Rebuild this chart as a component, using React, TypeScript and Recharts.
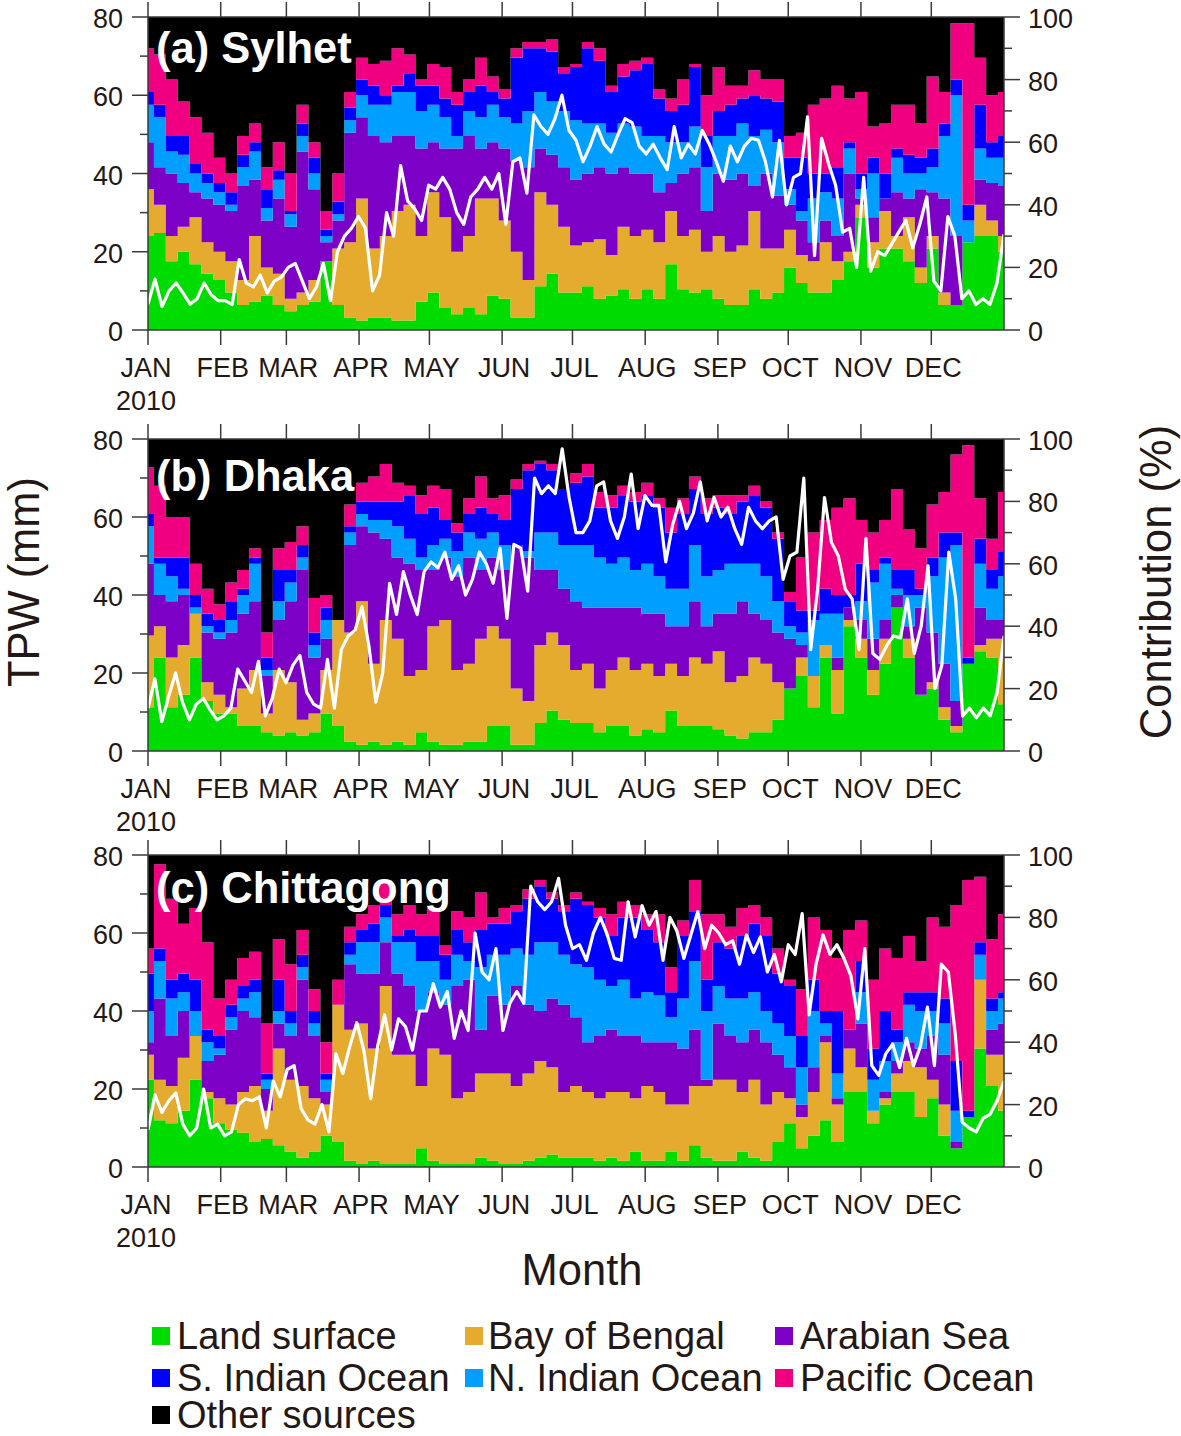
import React from "react";
import { ComposedChart, Area, Line, XAxis, YAxis } from "recharts";

// Upper edge of each stacked source (percent, right axis), one reading per five days.
const sylhetLand = [30,31,22,25,21,18,16,12,8,9,11,8,6,8,9,22,8,4,3,4,4,3,3,9,12,7,5,7,5,11,10,4,4,14,18,12,12,14,10,11,13,10,13,10,21,13,12,13,10,8,8,13,10,12,20,15,12,12,16,22,36,20,26,26,22,15,26,8,8,28,30,30,25];
const sylhetBay = [45,40,30,33,36,28,25,22,16,30,20,18,10,12,16,12,26,28,42,26,30,38,40,30,44,36,25,30,42,42,35,25,16,44,40,33,27,28,29,24,33,30,32,28,38,30,32,25,30,25,27,38,26,26,32,24,22,28,22,25,40,28,38,30,36,20,30,12,8,24,40,35,30];
const sylhetArabian = [60,52,50,47,44,42,40,38,46,48,35,42,33,57,45,28,35,63,68,62,60,62,62,58,60,58,58,62,58,60,58,54,52,58,56,52,48,50,52,50,52,50,50,44,47,50,52,38,50,48,50,46,50,43,40,35,28,35,30,50,42,36,42,44,42,45,44,42,30,25,48,47,46];
const sylhetNIndian = [72,68,57,56,50,47,44,40,52,57,39,48,37,62,50,30,37,67,75,72,72,76,76,70,72,68,62,70,68,72,68,66,70,76,73,70,67,66,66,63,66,65,62,62,60,60,65,52,62,62,66,62,64,60,45,38,42,44,42,58,45,50,42,55,50,50,52,62,75,35,58,55,55];
const sylhetSIndian = [76,72,62,62,53,50,47,44,56,60,45,51,38,66,55,32,41,71,80,78,75,78,82,78,78,74,72,76,78,76,74,87,90,90,89,82,84,90,86,76,81,83,85,74,70,72,84,62,70,72,74,75,74,73,55,55,50,50,52,60,50,55,50,58,56,55,58,66,80,40,72,60,62];
const sylhetPacific = [90,88,80,73,68,63,55,50,62,66,52,60,50,72,60,38,50,76,87,85,86,90,88,80,85,84,76,80,87,81,77,90,92,92,93,84,85,92,90,78,85,86,87,77,74,80,85,75,84,78,78,83,80,80,62,63,72,74,78,74,76,65,66,72,72,66,81,76,98,98,87,75,76];
const sylhetTpw = [6.6,13,6,10,12,9.5,6.6,8,12,9,7.5,7.5,6.5,18,12,11,14,9.5,12.5,13.5,16,17,12.5,8,11,17,7.5,20,24,26,29,26,10,14,30,24,42,33,31,28,37,36,39,36,30,27,34,36,39,36,40,27,43,44,35,55,52,50,54,60,51,48.5,43,47,52,47.5,45.5,50,54,53,47,45,47.5,44,41,52,44,47.5,45,51,47.5,43,38,47,43,47,49,48.5,43,34,48.5,32,39,40,54.5,19,49,42.5,37,25,26,16,39,15,20,19,22,25,28,21,27,34,12.5,10,29,24,8,10,6.5,8,6.5,12,24.5];

const dhakaLand = [14,30,14,18,30,16,12,12,8,8,6,5,6,5,6,12,8,3,2,3,2,3,2,6,3,2,2,3,3,8,8,2,2,9,13,10,9,9,6,8,8,5,7,6,13,8,8,8,7,5,4,6,6,10,20,24,14,30,12,40,30,18,28,46,30,18,20,10,6,28,32,30,15];
const dhakaBay = [37,40,30,34,44,22,18,14,20,26,12,26,22,10,12,26,42,38,48,28,42,36,24,26,40,42,26,28,36,40,36,20,16,34,38,34,26,28,20,26,30,26,28,24,28,24,30,28,32,22,24,30,28,22,20,30,24,34,26,42,36,26,36,46,36,18,22,14,8,26,34,36,36];
const dhakaArabian = [60,50,48,50,44,38,36,38,44,48,24,42,48,58,30,36,28,66,72,70,68,62,60,58,58,62,56,62,58,62,58,66,62,58,58,52,48,46,46,46,46,46,44,44,40,40,48,40,44,44,48,44,42,38,36,34,20,34,30,46,42,36,42,50,40,46,38,28,16,12,46,42,42];
const dhakaNIndian = [72,60,56,52,46,40,38,42,50,60,26,48,54,62,34,42,30,70,76,74,74,72,68,62,66,68,64,70,68,70,66,66,64,70,70,66,66,66,62,60,62,58,60,56,52,52,66,56,58,60,60,60,56,48,40,38,42,44,44,42,48,54,60,52,50,50,56,62,66,24,60,52,56];
const dhakaSIndian = [76,62,62,62,50,44,42,48,52,62,30,58,58,66,38,46,34,72,80,80,80,80,82,76,78,74,70,76,78,76,74,84,90,92,90,84,86,88,78,78,82,80,82,78,70,76,84,76,78,76,80,82,78,68,48,45,45,52,50,50,60,58,62,58,58,52,62,70,70,30,68,58,64];
const dhakaPacific = [91,85,75,75,60,52,47,54,58,65,38,65,67,72,49,50,38,79,86,88,92,86,85,82,85,84,73,81,88,81,82,87,92,93,92,84,89,92,83,82,85,83,86,81,78,81,88,81,82,82,82,85,80,70,51,62,70,74,78,81,74,70,74,84,71,65,79,83,95,98,81,68,83];
const dhakaTpw = [11,18.5,7.5,14,20,12.5,8,12,13.5,10.5,8,9,11,21,18,15,23,9,13.5,21,17.5,22,24.5,15,12,11,23.5,11,26,29.5,31,37,27,12.5,20,43,35,46,40,35,46,48.5,47,51,44,47.5,40,44,51,48,43,52,34,53,52,41,70,66,68,66,77.5,65,56,56,59,68,69,59,54.5,60,71,57,65.5,63,63,48.5,58,64,57,61,69,59,65,60,62.5,57,53,62.5,59,57,59,60,44,50,51,70,26,41.5,65,53.5,50,41.5,39,26,54.5,25,23.5,27,29.5,29,39,25,32,47.5,16,22,51,39,9,11,8.5,11,9,15,29.5];

const chittagongLand = [28,15,14,18,28,22,14,12,11,8,9,7,5,3,5,10,8,2,1,2,1,1,1,6,2,1,1,1,3,2,1,1,2,3,4,3,3,3,2,3,2,5,2,2,5,2,7,3,2,2,5,3,2,8,14,6,10,15,8,24,24,14,20,24,24,16,22,10,6,16,38,26,18];
const chittagongBay = [36,28,26,35,42,24,22,20,24,26,18,38,28,26,22,20,52,44,46,38,58,36,36,26,38,36,22,24,30,30,30,26,30,34,32,24,26,24,22,24,24,22,26,24,20,20,26,26,28,28,24,28,20,24,22,16,24,40,20,38,32,18,22,30,34,32,28,20,6,12,60,36,36];
const chittagongArabian = [40,54,42,50,42,34,36,44,50,48,25,46,42,60,42,24,48,65,62,62,72,62,58,50,56,52,58,60,44,55,52,58,52,50,54,52,48,40,42,44,42,42,40,40,40,38,44,28,46,42,40,44,40,36,32,20,32,42,22,44,46,18,24,34,40,38,42,36,8,10,60,44,46];
const chittagongNIndian = [50,66,54,56,50,40,38,48,54,56,28,50,46,64,46,28,34,68,72,72,80,72,72,66,66,60,68,66,64,68,68,70,68,72,72,68,65,64,60,58,60,54,56,55,48,54,66,50,58,54,54,56,50,46,42,32,50,46,30,42,56,28,34,40,52,50,50,46,18,14,68,50,54];
const chittagongSIndian = [62,70,60,62,60,44,42,52,58,60,30,60,50,68,50,30,38,72,76,78,84,74,76,74,74,68,76,72,76,78,78,82,86,90,86,82,86,84,80,74,80,80,76,72,56,74,82,60,72,70,74,78,74,62,58,42,60,50,50,44,66,38,50,44,56,56,56,54,34,18,72,54,56];
const chittagongPacific = [70,97,86,78,83,72,54,60,67,69,46,73,65,76,57,40,60,77,81,84,92,81,84,81,83,71,82,80,88,80,83,84,89,92,88,84,88,85,83,81,85,84,81,81,64,79,92,81,81,77,83,84,80,70,60,57,80,76,67,76,79,60,70,67,74,66,80,77,84,92,93,73,81];
const chittagongTpw = [9.5,18.5,14,17,19,11,8,10,20,10,11,8,9,16,17.5,17,18,10,22,18,25,26,15,12,11,16,9,29,24,31,37,30,17.5,31,39,30,38,36,30,40,40,47,41,45,33,40,35,60,50,48,56,35,42,45,42,72,68,66,68,74,62,56,57,53,60,64,59.5,53.5,53,68,59,67,62,65.5,53,64,60.5,53.5,59.5,65.5,56,62,60,57,58,52,59.5,55,59,50,54.5,47.5,57,54.5,65,39,52,59.5,54.5,57,53.5,49,38,56,26,23.5,29,31.5,25.5,33,26,31,41,26,52,50,34,11.5,10,9,12.5,13.5,17,22];

const monthDays = [0,31,59,90,120,151,181,212,243,273,304,334];
const monthLabels = ["JAN","FEB","MAR","APR","MAY","JUN","JUL","AUG","SEP","OCT","NOV","DEC"];
const mmTicks = [0,10,20,30,40,50,60,70,80];
const mmLabels = [0,20,40,60,80];
const pctTicks = [0,10,20,30,40,50,60,70,80,90,100];
const pctLabels = [0,20,40,60,80,100];

const seriesColors: Record<string,string> = {
  "Land surface":"#00dc00","Bay of Bengal":"#e5ab2e","Arabian Sea":"#7d00c6",
  "S. Indian Ocean":"#0000ff","N. Indian Ocean":"#009fff","Pacific Ocean":"#f00080","Other sources":"#000000",
};
const stackOrder = ["Land surface","Bay of Bengal","Arabian Sea","N. Indian Ocean","S. Indian Ocean","Pacific Ocean","Other sources"];

const FONT = "'Liberation Sans', Arial, sans-serif";
const INK = "#231815";
const AXIS = "#3a3a3a";
const PLOT_LEFT = 148;
const PLOT_RIGHT = 1004;

function buildStack(edges: number[][]) {
  const rows: Record<string, number>[] = edges[0].map((_, i) => {
    const row: Record<string, number> = { d: (i * 365) / (edges[0].length - 1) };
    let prev = 0;
    stackOrder.slice(0, 6).forEach((name, s) => {
      const top = Math.max(prev, edges[s][i]);
      row[name] = top - prev;
      prev = top;
    });
    row["Other sources"] = 100 - prev;
    return row;
  });
  return rows;
}

function buildLine(values: number[]) {
  return values.map((mm, i) => ({ d: (i * 365) / (values.length - 1), mm }));
}

function Panel({ top, plotTop, plotBottom, title, titleY, edges, tpw }: {
  top: number; plotTop: number; plotBottom: number; title: string; titleY: number; edges: number[][]; tpw: number[];
}) {
  const height = plotBottom - top + 92;
  const rows = buildStack(edges);
  const lineRows = buildLine(tpw);

  const bottomTick = (p: any) => (
    <g>
      <line x1={p.x} x2={p.x} y1={plotBottom - top} y2={plotBottom - top + 15} stroke={AXIS} strokeWidth={1.5} />
      <text x={p.x + (p.payload.value === 0 ? -2 : 2)} y={plotBottom - top + 47} textAnchor="middle" fontFamily={FONT} fontSize={27} fill={INK}>
        {monthLabels[monthDays.indexOf(p.payload.value)]}
      </text>
      {p.payload.value === 0 && (
        <text x={p.x - 2} y={plotBottom - top + 80} textAnchor="middle" fontFamily={FONT} fontSize={27} fill={INK}>2010</text>
      )}
    </g>
  );
  const topTick = (p: any) => (
    <line x1={p.x} x2={p.x} y1={plotTop - top} y2={plotTop - top - 15} stroke={AXIS} strokeWidth={1.5} />
  );
  const leftTick = (p: any) => {
    const major = mmLabels.includes(p.payload.value);
    return (
      <g>
        <line x1={PLOT_LEFT} x2={PLOT_LEFT - (major ? 16 : 8)} y1={p.y} y2={p.y} stroke={AXIS} strokeWidth={1.5} />
        {major && <text x={123} y={p.y + 11} textAnchor="end" fontFamily={FONT} fontSize={27} fill={INK}>{p.payload.value}</text>}
      </g>
    );
  };
  const rightTick = (p: any) => {
    const major = pctLabels.includes(p.payload.value);
    return (
      <g>
        <line x1={PLOT_RIGHT} x2={PLOT_RIGHT + (major ? 16 : 8)} y1={p.y} y2={p.y} stroke={AXIS} strokeWidth={1.5} />
        {major && <text x={1028} y={p.y + 11} textAnchor="start" fontFamily={FONT} fontSize={27} fill={INK}>{p.payload.value}</text>}
      </g>
    );
  };

  return (
    <div style={{ position: "absolute", left: 0, top }}>
      <ComposedChart
        width={1181}
        height={height}
        data={rows}
        margin={{ top: 0, right: 1181 - PLOT_RIGHT - 60, bottom: 0, left: PLOT_LEFT - 60 }}
      >
        <XAxis xAxisId="b" orientation="bottom" type="number" dataKey="d" domain={[0, 365]} ticks={monthDays} interval={0}
          allowDataOverflow height={92} tick={bottomTick} tickLine={false} axisLine={{ stroke: AXIS, strokeWidth: 1.5 }} />
        <XAxis xAxisId="t" orientation="top" type="number" dataKey="d" domain={[0, 365]} ticks={monthDays} interval={0}
          allowDataOverflow height={plotTop - top} tick={topTick} tickLine={false} axisLine={{ stroke: AXIS, strokeWidth: 1.5 }} />
        <YAxis yAxisId="mm" orientation="left" type="number" domain={[0, 80]} ticks={mmTicks} interval={0}
          width={60} tick={leftTick} tickLine={false} axisLine={{ stroke: AXIS, strokeWidth: 1.5 }} />
        <YAxis yAxisId="pct" orientation="right" type="number" domain={[0, 100]} ticks={pctTicks} interval={0}
          width={60} tick={rightTick} tickLine={false} axisLine={{ stroke: AXIS, strokeWidth: 1.5 }} />
        {stackOrder.map((name) => (
          <Area key={name} xAxisId="b" yAxisId="pct" stackId="src" type="step" dataKey={name}
            fill={seriesColors[name]} fillOpacity={1} stroke="none" dot={false} activeDot={false} isAnimationActive={false} />
        ))}
        <Line xAxisId="b" yAxisId="mm" data={lineRows} dataKey="mm" type="linear" stroke="#ffffff" strokeWidth={3.2}
          strokeLinejoin="round" dot={false} activeDot={false} isAnimationActive={false} />
      </ComposedChart>
      <svg width={700} height={80} style={{ position: "absolute", left: 0, top: plotTop - top, pointerEvents: "none" }}>
        <text x={156} y={titleY} fontFamily={FONT} fontWeight="bold" fontSize={43.5} fill="#ffffff">{title}</text>
      </svg>
    </div>
  );
}

const legendRows = [
  { name: "Land surface", x: 152, y: 1349, gap: 25 }, { name: "Bay of Bengal", x: 465, y: 1349, gap: 23 }, { name: "Arabian Sea", x: 775, y: 1349, gap: 25 },
  { name: "S. Indian Ocean", x: 152, y: 1391, gap: 25 }, { name: "N. Indian Ocean", x: 465, y: 1391, gap: 23 }, { name: "Pacific Ocean", x: 775, y: 1391, gap: 25 },
  { name: "Other sources", x: 152, y: 1428, gap: 25 },
];

export default function App() {
  return (
    <div style={{ position: "absolute", left: 0, top: 0, width: 1181, height: 1436, background: "#fff", overflow: "hidden" }}>
      <Panel top={0} plotTop={17} plotBottom={330} title="(a) Sylhet" titleY={46}
        edges={[sylhetLand, sylhetBay, sylhetArabian, sylhetNIndian, sylhetSIndian, sylhetPacific]} tpw={sylhetTpw} />
      <Panel top={422} plotTop={439} plotBottom={751} title="(b) Dhaka" titleY={52}
        edges={[dhakaLand, dhakaBay, dhakaArabian, dhakaNIndian, dhakaSIndian, dhakaPacific]} tpw={dhakaTpw} />
      <Panel top={838} plotTop={855} plotBottom={1167} title="(c) Chittagong" titleY={48}
        edges={[chittagongLand, chittagongBay, chittagongArabian, chittagongNIndian, chittagongSIndian, chittagongPacific]} tpw={chittagongTpw} />
      <svg width={1181} height={1436} style={{ position: "absolute", left: 0, top: 0, pointerEvents: "none" }}>
        <text transform="translate(39,582) rotate(-90)" textAnchor="middle" fontFamily={FONT} fontSize={43.5} fill={INK}>TPW (mm)</text>
        <text transform="translate(1171,582) rotate(-90)" textAnchor="middle" fontFamily={FONT} fontSize={43.5} fill={INK}>Contribution (%)</text>
        <text x={582} y={1285} textAnchor="middle" fontFamily={FONT} fontSize={43.5} fill={INK}>Month</text>
        {legendRows.map((r) => (
          <g key={r.name}>
            <rect x={r.x} y={r.y - 22} width={18} height={18} fill={seriesColors[r.name]} />
            <text x={r.x + r.gap} y={r.y} fontFamily={FONT} fontSize={38} fill={INK}>{r.name}</text>
          </g>
        ))}
      </svg>
    </div>
  );
}
